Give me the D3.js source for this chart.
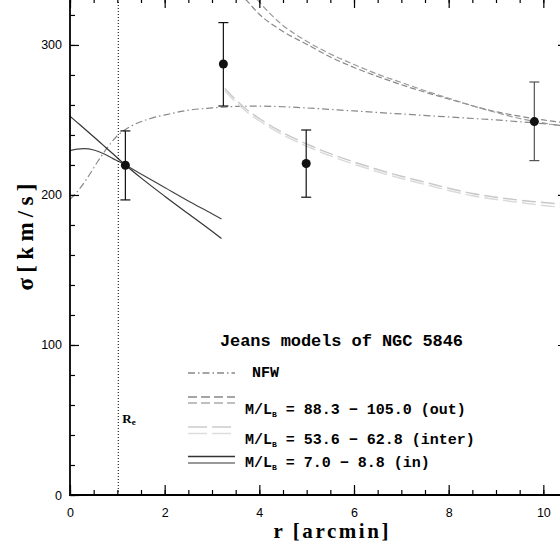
<!DOCTYPE html>
<html>
<head>
<meta charset="utf-8">
<script src="https://cdn.jsdelivr.net/npm/d3@7"></script>
<style>
  body { margin: 0; background: #fff; }
  svg { display: block; }
</style>
</head>
<body>
<svg width="560" height="546"></svg>
<script>
// observed dispersion profile
const obsR = [1.17, 3.24, 4.99, 9.81];
const obsSigma = [219.8, 287.3, 221.0, 248.9];
const obsLo = [196.7, 259.3, 198.5, 222.9];
const obsHi = [242.7, 314.9, 243.3, 275.3];

const rEff = 1.02;

// NFW model
const nfwR = [0, 0.2, 0.4, 0.6, 0.8, 1.0, 1.3, 1.7, 2.1, 2.5, 3.0, 3.5, 4.0, 4.5, 5, 6, 7, 8, 9, 10, 10.5];
const nfwSigma = [197, 204, 213, 223, 232, 239.5, 246, 251, 254, 256.5, 258, 259, 259.2, 258.8, 258, 256, 254, 252, 250, 247.5, 246];

// M/L models (two bounds each)
const outR = [3.27, 3.5, 3.75, 4.0, 4.5, 5.0, 5.5, 6.0, 6.5, 7.0, 7.5, 8.0, 8.5, 9.0, 9.5, 10.0, 10.5];
const outHiSigma = [350, 338, 329, 320.5, 309, 300.5, 292, 285, 279, 273.5, 268.5, 264, 259.5, 255.5, 252.5, 250, 248];
const outLoSigma = [366, 350, 338, 328.5, 313, 302.5, 294, 287, 280.5, 275, 269.5, 264.5, 259.5, 255, 251, 248, 245.5];

const interR = [3.27, 3.5, 3.75, 4.0, 4.44, 5.0, 5.5, 6.0, 6.5, 7.0, 7.5, 8.0, 8.5, 9.0, 9.5, 10.0, 10.5];
const interHiSigma = [271, 263.5, 256.5, 251, 242.5, 234, 227.5, 222, 217, 212.5, 208.5, 204.5, 201, 198.5, 196.5, 195, 193.5];
const interLoSigma = [269.5, 262, 255, 249.5, 241, 232.5, 226, 220.5, 215.5, 211, 207, 203, 199.5, 197, 195, 193, 191.5];

const inR = [0, 0.15, 0.3, 0.5, 0.7, 0.9, 1.17, 1.5, 2.0, 2.5, 3.0, 3.2];
const inASigma = [252.5, 248.4, 244.3, 238.8, 233.2, 227.6, 220, 211.4, 199.2, 187.5, 175.8, 171];
const inBSigma = [229.5, 230.6, 230.9, 230, 227.6, 224.4, 220, 214, 205, 196, 187.5, 184];

const xMajor = [0, 2, 4, 6, 8, 10];
const xMinor = d3.range(0, 10.51, 0.5);
const yMajor = [0, 100, 200, 300];
const yMinor = d3.range(0, 331, 20);

const legendLabels = ["NFW", "88.3 \u2212 105.0 (out)", "53.6 \u2212 62.8 (inter)", "7.0 \u2212 8.8 (in)"];

const svg = d3.select("svg");
const x = d3.scaleLinear().domain([0, 10.5]).range([70, 567]);
const y = d3.scaleLinear().domain([0, 331.3]).range([495, -2]);

const plot = svg.append("g");
svg.append("clipPath").attr("id", "clip")
  .append("rect").attr("x", 70).attr("y", -2).attr("width", 497).attr("height", 497);

// frame ticks
function tickStyle(g) {
  g.select(".domain").remove();
  g.selectAll("line").attr("stroke", "#000").attr("stroke-width", 1.2);
  g.selectAll("text").attr("font-family", "Liberation Sans, Arial, sans-serif")
    .attr("font-size", 12.5).attr("fill", "#000");
}
svg.append("g").attr("transform", "translate(0,495)")
  .call(d3.axisBottom(x).tickValues(xMajor).tickSizeInner(-10).tickSizeOuter(0).tickPadding(13).tickFormat(d3.format("d")))
  .call(tickStyle);
svg.append("g").attr("transform", "translate(0,495)")
  .call(d3.axisBottom(x).tickValues(xMinor).tickSizeInner(-5).tickSizeOuter(0).tickFormat(""))
  .call(tickStyle);
svg.append("g").attr("transform", "translate(0,-2)")
  .call(d3.axisTop(x).tickValues(xMajor).tickSizeInner(-10).tickSizeOuter(0).tickFormat(""))
  .call(tickStyle);
svg.append("g").attr("transform", "translate(0,-2)")
  .call(d3.axisTop(x).tickValues(xMinor).tickSizeInner(-5).tickSizeOuter(0).tickFormat(""))
  .call(tickStyle);
svg.append("g").attr("transform", "translate(70,0)")
  .call(d3.axisLeft(y).tickValues(yMajor).tickSizeInner(-9).tickSizeOuter(0).tickPadding(8))
  .call(tickStyle);
svg.append("g").attr("transform", "translate(70,0)")
  .call(d3.axisLeft(y).tickValues(yMinor).tickSizeInner(-5).tickSizeOuter(0).tickFormat(""))
  .call(tickStyle);
svg.append("g").attr("transform", "translate(567,0)")
  .call(d3.axisRight(y).tickValues(yMajor).tickSizeInner(-9).tickSizeOuter(0).tickFormat(""))
  .call(tickStyle);
svg.append("g").attr("transform", "translate(567,0)")
  .call(d3.axisRight(y).tickValues(yMinor).tickSizeInner(-5).tickSizeOuter(0).tickFormat(""))
  .call(tickStyle);

svg.append("line").attr("x1", 70).attr("x2", 70).attr("y1", -2).attr("y2", 496)
  .attr("stroke", "#000").attr("stroke-width", 1.8);
svg.append("line").attr("x1", 69).attr("x2", 567).attr("y1", 495).attr("y2", 495)
  .attr("stroke", "#000").attr("stroke-width", 2.2);

// R_e
svg.append("line").attr("x1", x(rEff)).attr("x2", x(rEff)).attr("y1", y(0)).attr("y2", -2)
  .attr("stroke", "#000").attr("stroke-width", 1).attr("stroke-dasharray", "1,2");
const re = svg.append("text").attr("x", x(rEff) + 4).attr("y", 423)
  .attr("font-family", "Liberation Serif, serif").attr("font-weight", "bold").attr("font-size", 13);
re.append("tspan").text("R");
re.append("tspan").attr("font-size", 9).attr("dy", 2).text("e");

// model curves
const line = d3.line().x(d => x(d[0])).y(d => y(d[1])).curve(d3.curveMonotoneX);
const curves = plot.append("g").attr("clip-path", "url(#clip)").attr("fill", "none");
function drawCurve(rs, ss, color, dash, w) {
  curves.append("path").datum(rs.map((r, i) => [r, ss[i]]))
    .attr("d", line).attr("stroke", color).attr("stroke-width", w || 1.2)
    .attr("stroke-dasharray", dash);
}
drawCurve(nfwR, nfwSigma, "#888", "7,3,1.5,3");
drawCurve(outR, outHiSigma, "#888", "6,3");
drawCurve(outR, outLoSigma, "#999", "6,3");
drawCurve(interR, interHiSigma, "#c8c8c8", "14,5", 1.4);
drawCurve(interR, interLoSigma, "#dadada", "14,5", 1.4);
drawCurve(inR, inASigma, "#333", null);
drawCurve(inR, inBSigma, "#444", null);

// data with error bars
const pts = plot.append("g").selectAll("g").data(obsR).join("g");
pts.append("line")
  .attr("x1", d => x(d)).attr("x2", d => x(d))
  .attr("y1", (d, i) => y(obsLo[i])).attr("y2", (d, i) => y(obsHi[i]))
  .attr("stroke", (d, i) => i === 3 ? "#555" : "#111").attr("stroke-width", 1.2);
[obsLo, obsHi].forEach(arr => {
  pts.append("line")
    .attr("x1", d => x(d) - 5).attr("x2", d => x(d) + 5)
    .attr("y1", (d, i) => y(arr[i])).attr("y2", (d, i) => y(arr[i]))
    .attr("stroke", (d, i) => i === 3 ? "#555" : "#111").attr("stroke-width", 1.2);
});
pts.append("circle")
  .attr("cx", d => x(d)).attr("cy", (d, i) => y(obsSigma[i]))
  .attr("r", 4.5).attr("fill", "#111");

// axis labels
svg.append("text").attr("x", 331).attr("y", 538).attr("text-anchor", "middle")
  .attr("font-family", "Liberation Serif, serif").attr("font-weight", "bold").attr("font-size", 21)
  .attr("textLength", 115).attr("lengthAdjust", "spacing").text("r [arcmin]");
svg.append("text").attr("transform", "translate(33,237) rotate(-90)").attr("text-anchor", "middle")
  .attr("font-family", "Liberation Serif, serif").attr("font-weight", "bold").attr("font-size", 23)
  .attr("textLength", 107).attr("lengthAdjust", "spacing").text("\u03c3[km/s]");

// legend
const lg = svg.append("g").attr("font-family", "Liberation Mono, monospace").attr("font-weight", "bold");
lg.append("text").attr("x", 220).attr("y", 346).attr("font-size", 17)
  .attr("textLength", 243).attr("lengthAdjust", "spacing").text("Jeans models of NGC 5846");

const sample = (y0, color, dash) => lg.append("line").attr("x1", 188).attr("x2", 235)
  .attr("y1", y0).attr("y2", y0).attr("stroke", color).attr("stroke-width", 1.3)
  .attr("stroke-dasharray", dash);
sample(373, "#888", "7,3,1.5,3");
sample(397, "#888", "9,4");
sample(403, "#aaa", "9,4");
sample(427, "#ccc", "19,5");
sample(433.5, "#ddd", "19,5");
sample(456.5, "#333", null);
sample(463, "#777", null);

lg.append("text").attr("x", 252).attr("y", 377).attr("font-size", 15).text(legendLabels[0]);
[414, 444, 466.5].forEach((yb, i) => {
  const t = lg.append("text").attr("x", 245).attr("y", yb).attr("font-size", 15);
  t.append("tspan").text("M/L");
  t.append("tspan").attr("font-size", 8).attr("dy", 3).text("B");
  t.append("tspan").attr("dy", -3).text(" = " + legendLabels[i + 1]);
});
</script>
</body>
</html>
